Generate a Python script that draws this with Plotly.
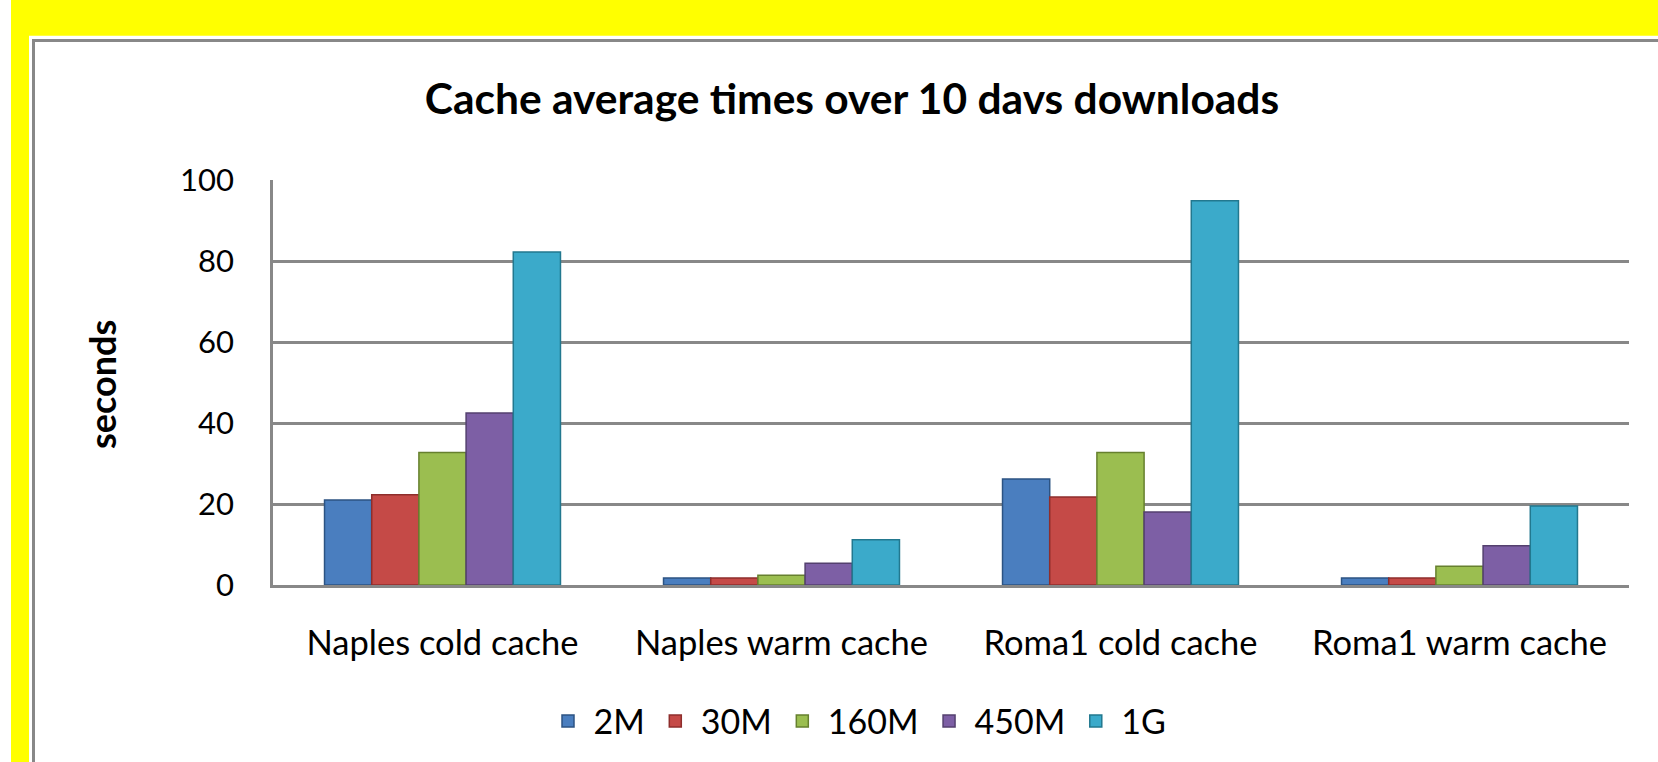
import plotly.graph_objects as go

categories = ["Naples cold cache", "Naples warm cache", "Roma1 cold cache", "Roma1 warm cache"]
series_names = ["2M", "30M", "160M", "450M", "1G"]
v_2M = [21.0, 1.7, 26.2, 1.7]
v_30M = [22.3, 1.7, 21.7, 1.7]
v_160M = [32.7, 2.4, 32.7, 4.6]
v_450M = [42.5, 5.4, 18.0, 9.7]
v_1G = [82.2, 11.2, 94.9, 19.5]
series_values = [v_2M, v_30M, v_160M, v_450M, v_1G]
colors = ["#4A7EBF", "#C54A47", "#9BBE50", "#7D5FA5", "#3BAACA"]
edges = ["#2C5383", "#8E2E2C", "#66802E", "#54406F", "#22788F"]
y_ticks = [0, 20, 40, 60, 80, 100]

W, H = 1658, 762
ml, mr, mt, mb = 273, 29, 180, 175
pw, ph = W - ml - mr, H - mt - mb


def px(x):
    return (x - ml) / pw


def py(y):
    return (H - mb - y) / ph


FONT = "Lato"

fig = go.Figure()
for name, vals, c, e in zip(series_names, series_values, colors, edges):
    fig.add_trace(go.Bar(name=name, x=categories, y=vals,
                         marker=dict(color=c, line=dict(color=e, width=1.5))))

fig.update_layout(
    width=W, height=H,
    margin=dict(l=ml, r=mr, t=mt, b=mb),
    paper_bgcolor="#FFFF00",
    plot_bgcolor="rgba(0,0,0,0)",
    barmode="group", bargap=0.304, bargroupgap=0,
    font=dict(family=FONT, size=30, color="#000000"),
    title=dict(text="<b>Cache average times over 10 davs downloads</b>",
               x=852 / W, xref="container", xanchor="center",
               y=1 - 99 / H, yref="container", yanchor="middle",
               font=dict(family=FONT, size=42.5, color="#000000")),
    showlegend=True,
    legend=dict(orientation="h", x=px(857), xanchor="center", y=py(724), yanchor="middle",
                font=dict(family=FONT, size=34), bgcolor="rgba(0,0,0,0)",
                traceorder="normal", itemwidth=41),
    shapes=[
        dict(type="rect", xref="paper", yref="paper", layer="below",
             x0=px(-5), x1=px(11), y0=py(900), y1=py(-50),
             fillcolor="#FFFFFF", line=dict(width=0)),
        dict(type="rect", xref="paper", yref="paper", layer="below",
             x0=px(29), x1=px(1800), y0=py(900), y1=py(35),
             fillcolor="#FFFFFF", line=dict(width=0)),
        dict(type="rect", xref="paper", yref="paper", layer="below",
             x0=px(33.5), x1=px(1800), y0=py(900), y1=py(39.7),
             fillcolor="#FFFFFF", line=dict(color="#888888", width=3)),
    ],
    annotations=[
        dict(text="<b>seconds</b>", xref="paper", yref="paper", x=px(102), y=py(386),
             xanchor="center", yanchor="middle", textangle=-90, showarrow=False,
             font=dict(family=FONT, size=36, color="#000000")),
    ],
)
fig.update_yaxes(range=[0, 100], tickvals=y_ticks, showgrid=True, gridcolor="#888888",
                 gridwidth=2.5, showline=True, linecolor="#888888", linewidth=2.5,
                 zeroline=False, ticks="", ticklabelstandoff=30,
                 tickfont=dict(family=FONT, size=31, color="#000000"))
fig.update_xaxes(showline=True, linecolor="#888888", linewidth=2.5, ticks="",
                 ticklabelstandoff=26, tickfont=dict(family=FONT, size=34.5, color="#000000"))

fig.write_html("out.html", config={"displayModeBar": False},
               post_script="document.body.style.margin='0';document.body.style.overflow='hidden';")
